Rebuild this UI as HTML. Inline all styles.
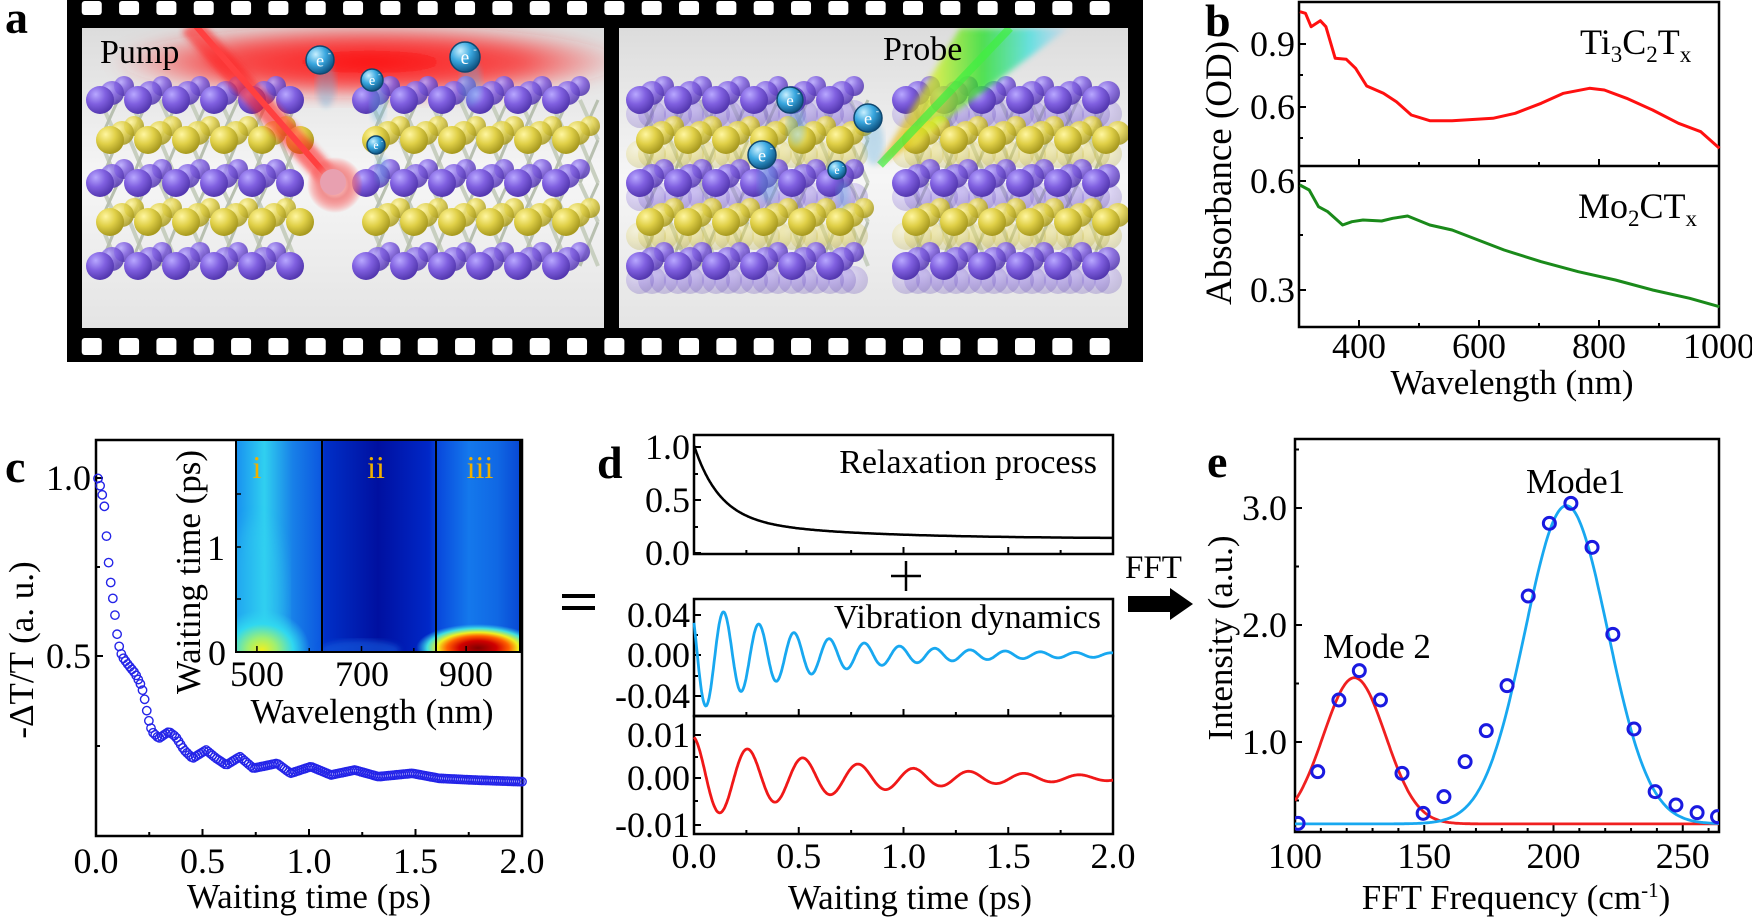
<!DOCTYPE html>
<html><head><meta charset="utf-8">
<style>
html,body{margin:0;padding:0;background:#fff;}
svg{display:block;}
text{font-family:"Liberation Serif",serif;fill:#000;}
</style></head>
<body>
<svg id="s" xmlns="http://www.w3.org/2000/svg" width="1752" height="921" viewBox="0 0 1752 921">
<defs>
<radialGradient id="gp" cx="0.35" cy="0.3" r="0.7"><stop offset="0" stop-color="#b8a8ff"/><stop offset="0.5" stop-color="#8060e0"/><stop offset="1" stop-color="#5438b0"/></radialGradient>
<radialGradient id="gy" cx="0.35" cy="0.3" r="0.7"><stop offset="0" stop-color="#fff6a0"/><stop offset="0.5" stop-color="#e0d048"/><stop offset="1" stop-color="#a89a20"/></radialGradient>
<radialGradient id="ge" cx="0.35" cy="0.3" r="0.7"><stop offset="0" stop-color="#c8f0ff"/><stop offset="0.5" stop-color="#3aa8e0"/><stop offset="1" stop-color="#105888"/></radialGradient>
<linearGradient id="bg" x1="0" y1="0" x2="0" y2="1"><stop offset="0" stop-color="#dcdcdc"/><stop offset="0.5" stop-color="#f6f6f6"/><stop offset="1" stop-color="#e4e4e4"/></linearGradient>
<radialGradient id="redglow" cx="0.5" cy="0.5" r="0.5"><stop offset="0" stop-color="#ff0000" stop-opacity="0.95"/><stop offset="0.6" stop-color="#ff1010" stop-opacity="0.7"/><stop offset="1" stop-color="#ff3030" stop-opacity="0"/></radialGradient>
<radialGradient id="pinkball" cx="0.5" cy="0.5" r="0.5"><stop offset="0" stop-color="#ffe0e0"/><stop offset="0.5" stop-color="#f09090"/><stop offset="1" stop-color="#ff4040" stop-opacity="0"/></radialGradient>
<linearGradient id="rainbow" x1="0" y1="0" x2="1" y2="0"><stop offset="0" stop-color="#f0a020"/><stop offset="0.3" stop-color="#d0f020"/><stop offset="0.55" stop-color="#20e020"/><stop offset="0.8" stop-color="#40e0e0"/><stop offset="1" stop-color="#80d0ff" stop-opacity="0.3"/></linearGradient>
<linearGradient id="hm" x1="0" y1="0" x2="1" y2="0">
<stop offset="0" stop-color="#1890f0"/><stop offset="0.1" stop-color="#30d0f0"/><stop offset="0.2" stop-color="#1880e8"/><stop offset="0.3" stop-color="#0c58e0"/><stop offset="0.31" stop-color="#0030c8"/><stop offset="0.5" stop-color="#0010a0"/><stop offset="0.68" stop-color="#0028c8"/><stop offset="0.71" stop-color="#0848dc"/><stop offset="0.82" stop-color="#1478ec"/><stop offset="0.92" stop-color="#1068e4"/><stop offset="1" stop-color="#0848d4"/></linearGradient>
<radialGradient id="hi" cx="0.5" cy="0.5" r="0.5"><stop offset="0" stop-color="#f0f020"/><stop offset="0.3" stop-color="#a0f070"/><stop offset="0.65" stop-color="#30d8f0"/><stop offset="1" stop-color="#30d0f0" stop-opacity="0"/></radialGradient>
<radialGradient id="hiii" cx="0.5" cy="0.5" r="0.5"><stop offset="0" stop-color="#800000"/><stop offset="0.3" stop-color="#d00000"/><stop offset="0.5" stop-color="#ff6000"/><stop offset="0.65" stop-color="#f0f020"/><stop offset="0.82" stop-color="#40e0e0"/><stop offset="1" stop-color="#30c0f0" stop-opacity="0"/></radialGradient>
<filter id="blur8"><feGaussianBlur stdDeviation="8"/></filter>
<filter id="blur3"><feGaussianBlur stdDeviation="3"/></filter>
<clipPath id="cl"><rect x="82" y="28" width="522" height="300"/></clipPath>
<clipPath id="cr"><rect x="619" y="28" width="509" height="300"/></clipPath>
<clipPath id="ci"><rect x="236" y="440" width="284" height="212"/></clipPath>
</defs>
<g id="root"></g>
</svg>
<script>
var NS="http://www.w3.org/2000/svg",root=document.getElementById("root");
function el(t,a,p,txt){var e=document.createElementNS(NS,t);for(var k in a)e.setAttribute(k,a[k]);if(txt!==undefined)e.textContent=txt;(p||root).appendChild(e);return e;}
function T(x,y,s,fs,o){o=o||{};var a={x:x,y:y,"font-size":fs};if(o.anchor)a["text-anchor"]=o.anchor;if(o.bold)a["font-weight"]="bold";if(o.fill)a.style="fill:"+o.fill;if(o.rot)a.transform="rotate(-90 "+x+" "+y+")";return el("text",a,o.p,s);}
function line(x1,y1,x2,y2,w,c,p){return el("line",{x1:x1,y1:y1,x2:x2,y2:y2,stroke:c||"#000","stroke-width":w||2},p);}
function poly(pts,c,w,p){return el("polyline",{points:pts.map(function(q){return q[0].toFixed(1)+","+q[1].toFixed(1)}).join(" "),fill:"none",stroke:c,"stroke-width":w,"stroke-linejoin":"round"},p);}
function frame(x1,y1,x2,y2){el("rect",{x:x1,y:y1,width:x2-x1,height:y2-y1,fill:"none",stroke:"#000","stroke-width":2.5});}
var FT=36,FL=35;

/* ===== Panel a ===== */
T(5,33,"a",46,{bold:1});
el("rect",{x:67,y:0,width:1076,height:362,fill:"#000"});
for(var k=-30;k<5;k++){var px=1015+37.33*k;if(px<70)continue;if(px>1125)continue;
 el("rect",{x:px,y:1,width:20,height:14,rx:3,fill:"#fff"});
 el("rect",{x:px,y:338,width:20,height:17,rx:3,fill:"#fff"});}
el("rect",{x:82,y:28,width:522,height:300,fill:"url(#bg)"});
el("rect",{x:619,y:28,width:509,height:300,fill:"url(#bg)"});
var gl=el("g",{"clip-path":"url(#cl)"}),gr=el("g",{"clip-path":"url(#cr)"});
el("ellipse",{cx:370,cy:62,rx:260,ry:38,fill:"url(#redglow)",filter:"url(#blur8)"},gl);
function lattice(g,x0,x1,gap0,gap1,faded){
 var rows=[[100,"p"],[140,"y"],[183,"p"],[222,"y"],[266,"p"]];
 for(var r=0;r<rows.length-1;r++){for(var x=x0;x<=x1;x+=30){if(x>gap0&&x<gap1)continue;
   line(x,rows[r][0],x+18,rows[r+1][0],4,"#c8cfc0",g);line(x+18,rows[r][0],x,rows[r+1][0],3,"#b8c0b0",g);}}
 for(var r=0;r<rows.length;r++){var y=rows[r][0],f=rows[r][1]=="p"?"url(#gp)":"url(#gy)";
  for(var d=2;d>=0;d--){for(var x=x0+d*12;x<=x1;x+=38){if(x>gap0&&x<gap1)continue;
    if(faded)el("circle",{cx:x,cy:y+14,r:14,fill:f,opacity:0.25},g);
    el("circle",{cx:x+(r%2)*10,cy:y-d*7,r:14-d*2,fill:f,opacity:d?0.85:1},g);}}}
}
lattice(gl,100,590,300,360,false);
lattice(gr,640,1115,860,895,true);
el("line",{x1:190,y1:25,x2:335,y2:185,stroke:"#ff2020","stroke-width":22,opacity:0.6,filter:"url(#blur3)"},gl);
el("line",{x1:195,y1:25,x2:335,y2:185,stroke:"#ff4040","stroke-width":6},gl);
el("circle",{cx:335,cy:185,r:28,fill:"url(#pinkball)"},gl);
el("circle",{cx:333,cy:182,r:13,fill:"#e8a0b0"},gl);
T(100,63,"Pump",34,{p:gl});
function elec(g,x,y,r){el("ellipse",{cx:x+6,cy:y+25,rx:r*0.7,ry:r*1.6,fill:"#60b0e0",opacity:0.35,filter:"url(#blur3)"},g);
 el("circle",{cx:x,cy:y,r:r,fill:"url(#ge)",stroke:"#104870","stroke-width":1.5},g);
 T(x,y+r*0.45,"e",r*1.3,{anchor:"middle",fill:"#fff",p:g});T(x+r*0.55,y-r*0.3,"-",r*0.7,{fill:"#fff",p:g});}
elec(gl,320,60,14);elec(gl,372,80,11);elec(gl,465,57,15);elec(gl,376,145,9);
el("polygon",{points:"960,28 1068,28 905,150 878,165",fill:"url(#rainbow)",opacity:0.75,filter:"url(#blur3)"},gr);
el("line",{x1:1010,y1:28,x2:880,y2:165,stroke:"#40f040","stroke-width":8,opacity:0.7},gr);
elec(gr,790,100,13);elec(gr,868,118,14);elec(gr,762,155,14);elec(gr,837,170,9);
T(883,60,"Probe",34,{p:gr});

/* ===== Panel b ===== */
T(1205,36,"b",46,{bold:1});
var bx=function(nm){return 1299+(nm-300)*0.6;};
frame(1299,2,1719,327);line(1299,166,1719,166,2.5);
[400,500,600,700,800,900].forEach(function(v,i){var x=bx(v),L=(v%200==0)?7:4;line(x,327,x,327-L,2);line(x,166,x,166-L,2);});
[[44,"0.9"],[107,"0.6"]].forEach(function(a){line(1299,a[0],1306,a[0],2);T(1295,a[0]+12,a[1],FT,{anchor:"end"});});
line(1299,75,1303,75,2);line(1299,138,1303,138,2);
[[181,"0.6"],[290,"0.3"]].forEach(function(a){line(1299,a[0],1306,a[0],2);T(1295,a[0]+12,a[1],FT,{anchor:"end"});});
line(1299,235,1303,235,2);
[[1359,"400"],[1479,"600"],[1599,"800"],[1719,"1000"]].forEach(function(a){T(a[0],358,a[1],FT,{anchor:"middle"});});
T(1512,394,"Wavelength (nm)",FL,{anchor:"middle"});
T(1231,173,"Absorbance (OD)",37,{anchor:"middle",rot:1});
var tb=T(1580,54,"",36);tb.innerHTML='Ti<tspan dy="8" font-size="23">3</tspan><tspan dy="-8">C</tspan><tspan dy="8" font-size="23">2</tspan><tspan dy="-8">T</tspan><tspan dy="8" font-size="23">x</tspan>';
var mb=T(1578,218,"",36);mb.innerHTML='Mo<tspan dy="8" font-size="23">2</tspan><tspan dy="-8">CT</tspan><tspan dy="8" font-size="23">x</tspan>';
function zb(arr){return arr.map(function(q){return[1170+q[0]/2.694,q[1]/3];});}
poly(zb([[350,35],[365,40],[380,80],[405,62],[420,80],[445,175],[475,178],[500,205],[530,258],[575,280],[610,305],[650,345],[700,362],[760,362],[870,355],[930,340],[1000,310],[1060,280],[1130,265],[1170,270],[1230,295],[1300,330],[1370,370],[1430,395],[1480,445]]),"#ff1010",3);
poly(zb([[350,555],[375,570],[400,620],[425,635],[465,675],[490,665],[520,660],[570,663],[600,655],[640,648],[700,675],[760,690],[830,720],[900,750],[1000,785],[1100,815],[1200,840],[1300,870],[1400,895],[1480,920]]),"#1a8a1a",3);

/* ===== Panel c ===== */
T(5,482,"c",46,{bold:1});
frame(96,440,522,836);
[0.25,0.5,0.75,1,1.25,1.5,1.75].forEach(function(t){var x=96+t*213,L=(t*2%1==0)?7:4;line(x,836,x,836-L,2);});
[[478,"1.0",7],[567,"",4],[656,"0.5",7],[746,"",4]].forEach(function(a){line(96,a[0],96+a[2],a[0],2);if(a[1])T(91,a[0]+12,a[1],FT,{anchor:"end"});});
["0.0","0.5","1.0","1.5","2.0"].forEach(function(s,i){T(96+i*106.5,873,s,FT,{anchor:"middle"});});
T(309,908,"Waiting time (ps)",FL,{anchor:"middle"});
T(33,650,"-\u0394T/T (a. u.)",FL,{anchor:"middle",rot:1});
var ck=[[290,325],[300,360],[310,415],[313,470],[318,535],[323,597],[330,657],[338,713],[343,762],[348,805],[355,840],[362,860],[380,885],[400,910],[415,940],[425,970],[432,1010],[440,1050],[450,1085],[470,1105],[500,1085],[520,1100],[545,1140],[570,1165],[610,1140],[640,1165],[670,1185],[710,1160],[750,1195],[820,1180],[860,1210],[920,1190],[980,1215],[1050,1200],[1120,1220],[1220,1210],[1300,1225],[1400,1230],[1540,1235]].map(function(q){return[q[0]/2.96,370+q[1]/3];});
function interp(x){for(var i=0;i<ck.length-1;i++){if(x<=ck[i+1][0]){var f=(x-ck[i][0])/(ck[i+1][0]-ck[i][0]);return ck[i][1]+f*(ck[i+1][1]-ck[i][1]);}}return ck[ck.length-1][1];}
var cg=el("g",{fill:"none",stroke:"#2424e8","stroke-width":1.4});
for(var t=0;t<=2.0001;t+=0.01){var x=98+t*212;var y=interp(x);el("circle",{cx:x,cy:y,r:4.2},cg);}
// inset heatmap
var ig=el("g",{"clip-path":"url(#ci)"});
el("rect",{x:236,y:440,width:284,height:212,fill:"url(#hm)"},ig);
el("ellipse",{cx:255,cy:600,rx:30,ry:80,fill:"#30d0f0",opacity:0.35,filter:"url(#blur8)"},ig);
el("ellipse",{cx:262,cy:650,rx:48,ry:40,fill:"url(#hi)"},ig);
el("ellipse",{cx:478,cy:648,rx:62,ry:24,fill:"url(#hiii)"},ig);
el("ellipse",{cx:360,cy:650,rx:40,ry:10,fill:"#1860e0",opacity:0.6,filter:"url(#blur3)"},ig);
line(322,440,322,652,2);line(436,440,436,652,2);
el("rect",{x:236,y:440,width:284,height:212,fill:"none",stroke:"#000","stroke-width":2});
[500,600,700,800,900].forEach(function(v){var x=236+(v-460)*0.523;line(x,652,x,652-((v%200==100)?6:4),1.5);});
[652,599,547,494].forEach(function(y){line(236,y,241,y,1.5);});
T(225,560,"1",FT,{anchor:"end"});T(226,665,"0",FT,{anchor:"end"});
T(257,686,"500",FT,{anchor:"middle"});T(362,686,"700",FT,{anchor:"middle"});T(466,686,"900",FT,{anchor:"middle"});
T(372,723,"Wavelength (nm)",FL,{anchor:"middle"});
T(200,572,"Waiting time (ps)",FL,{anchor:"middle",rot:1});
T(257,478,"i",32,{anchor:"middle",fill:"#f0b000"});T(376,478,"ii",32,{anchor:"middle",fill:"#f0b000"});T(480,478,"iii",32,{anchor:"middle",fill:"#f0b000"});

/* ===== Panel d ===== */
T(597,478,"d",46,{bold:1});
el("rect",{x:562,y:594,width:33,height:4,fill:"#000"});el("rect",{x:562,y:606,width:33,height:4,fill:"#000"});
line(906,561,906,591,2.5);line(891,576,921,576,2.5);
var dx=function(t){return 694+t*209.5;};
frame(694,435,1113,554);frame(694,599,1113,716);frame(694,716,1113,834);
[0.25,0.5,0.75,1,1.25,1.5,1.75].forEach(function(t){var x=dx(t),L=(t*2%1==0)?7:4;line(x,554,x,554-L,2);line(x,716,x,716-L,2);line(x,834,x,834-L,2);});
function yt(y,s,L){line(694,y,694+L,y,2);if(s)T(690,y+12,s,FT,{anchor:"end"});}
yt(447,"1.0",7);yt(474,"",4);yt(500,"0.5",7);yt(527,"",4);yt(553,"0.0",7);
yt(615,"0.04",7);yt(635,"",4);yt(655,"0.00",7);yt(676,"",4);yt(696,"-0.04",7);
yt(735,"0.01",7);yt(757,"",4);yt(778,"0.00",7);yt(801,"",4);yt(825,"-0.01",7);
["0.0","0.5","1.0","1.5","2.0"].forEach(function(s,i){T(dx(i*0.5),868,s,FT,{anchor:"middle"});});
T(910,909,"Waiting time (ps)",FL,{anchor:"middle"});
T(1097,473,"Relaxation process",34,{anchor:"end"});
T(1101,628,"Vibration dynamics",34,{anchor:"end"});
var pk=[],pb=[],pr=[];
for(var t=0;t<=2.0001;t+=0.004){
 var v=0.135+0.68*Math.exp(-t/0.12)+0.2*Math.exp(-t/0.6);pk.push([dx(t),553-v*106]);
 var b=0.054*Math.exp(-t/0.48)*Math.cos(2*Math.PI*(t-0.142)/0.168)+0.0025*Math.exp(-t/3)*Math.cos(2*Math.PI*(t-0.142)/0.168);pb.push([dx(t),655-b*1012]);
 var r=0.0092*Math.exp(-t/0.72)*Math.cos(2*Math.PI*(t-0.257)/0.264);pr.push([dx(t),778-r*4500]);}
poly(pk,"#000",2.5);poly(pb,"#18a8f0",2.8);poly(pr,"#f01818",2.8);
T(1125,578,"FFT",33);
el("polygon",{points:"1128,596 1170,596 1170,588 1193,604 1170,620 1170,612 1128,612",fill:"#000"});

/* ===== Panel e ===== */
T(1207,477,"e",46,{bold:1});
frame(1295,439,1719,832);
var ex=function(f){return 1295+(f-100)*2.585;},ey=function(v){return 742-(v-1)*117;};
[110,120,130,140,150,160,170,180,190,200,210,220,230,240,250,260].forEach(function(f){var L=(f%50==0)?7:4;line(ex(f),832,ex(f),832-L,2);});
[0.5,1,1.5,2,2.5,3,3.5].forEach(function(v){var L=(v%1==0)?7:4;line(1295,ey(v),1295+L,ey(v),2);});
[[1,"1.0"],[2,"2.0"],[3,"3.0"]].forEach(function(a){T(1287,ey(a[0])+12,a[1],FT,{anchor:"end"});});
[100,150,200,250].forEach(function(f){T(ex(f),868,""+f,FT,{anchor:"middle"});});
var xt=T(1516,909,"",FL,{anchor:"middle"});xt.innerHTML='FFT Frequency (cm<tspan dy="-12" font-size="21">-1</tspan><tspan dy="12">)</tspan>';
T(1232,638,"Intensity (a.u.)",FL,{anchor:"middle",rot:1});
T(1526,493,"Mode1",35);T(1323,658,"Mode 2",35);
var pre=[],pbe=[];
for(var f=100;f<=264;f+=0.5){pre.push([ex(f),ey(0.3+1.25*Math.exp(-Math.pow(f-123,2)/(2*144)))]);pbe.push([ex(f),ey(0.3+2.72*Math.exp(-Math.pow(f-205,2)/(2*256)))]);}
var ecl=el("clipPath",{id:"ce"});el("rect",{x:1295,y:439,width:424,height:393},ecl);
var eg=el("g",{"clip-path":"url(#ce)"});
poly(pre,"#f02020",2.8,eg);poly(pbe,"#18a8f0",2.8,eg);
[[345,1210],[398,1055],[455,840],[510,752],[567,840],[625,1060],[682,1180],[738,1130],[795,1025],[852,932],[908,797],[965,528],[1022,310],[1080,250],[1137,382],[1193,643],[1250,927],[1307,1115],[1363,1155],[1420,1178],[1475,1190]].forEach(function(q){
 el("circle",{cx:1170+q[0]/2.694,cy:420+q[1]/3,r:6,fill:"none",stroke:"#1a1ae0","stroke-width":3},eg);});
</script>
</body></html>
